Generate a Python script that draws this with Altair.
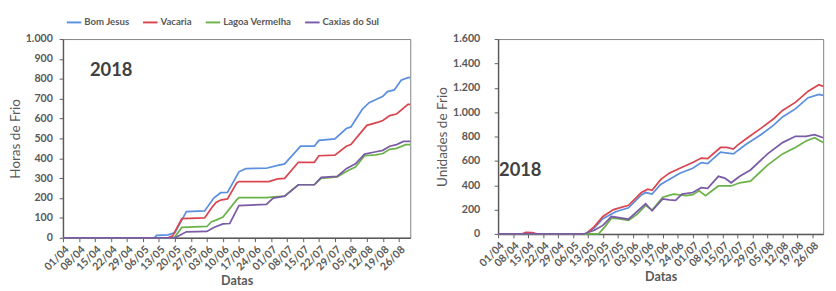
import altair as alt
import pandas as pd

series = ["Bom Jesus", "Vacaria", "Lagoa Vermelha", "Caxias do Sul"]
colors = ["#5b8fdf", "#d9464f", "#6bb24a", "#7b5ba6"]

tick_dates = ["2018-04-01", "2018-04-08", "2018-04-15", "2018-04-22", "2018-04-29",
              "2018-05-06", "2018-05-13", "2018-05-20", "2018-05-27", "2018-06-03",
              "2018-06-10", "2018-06-17", "2018-06-24", "2018-07-01", "2018-07-08",
              "2018-07-15", "2018-07-22", "2018-07-29", "2018-08-05", "2018-08-12",
              "2018-08-19", "2018-08-26"]
hf_ticks = [0, 100, 200, 300, 400, 500, 600, 700, 800, 900, 1000]
uf_ticks = [0, 200, 400, 600, 800, 1000, 1200, 1400, 1600]
year_label = ["2018"]

# ---- Horas de Frio (left) ----
hf_bj_dates = ["2018-04-01", "2018-05-11", "2018-05-12", "2018-05-17", "2018-05-19", "2018-05-20",
               "2018-05-25", "2018-06-02", "2018-06-06", "2018-06-09", "2018-06-12", "2018-06-17",
               "2018-06-20", "2018-06-29", "2018-07-04", "2018-07-07", "2018-07-14", "2018-07-20",
               "2018-07-22", "2018-07-29", "2018-08-03", "2018-08-05", "2018-08-10", "2018-08-13",
               "2018-08-16", "2018-08-19", "2018-08-21", "2018-08-24", "2018-08-27", "2018-08-30",
               "2018-08-31"]
hf_bj_vals = [0, 0, 12, 15, 22, 25, 132, 135, 200, 227, 228, 332, 348, 350, 364, 372, 461, 461,
              490, 498, 550, 558, 647, 680, 696, 712, 736, 744, 793, 806, 806]

hf_va_dates = ["2018-04-01", "2018-05-17", "2018-05-19", "2018-05-23", "2018-06-02", "2018-06-05",
               "2018-06-07", "2018-06-09", "2018-06-12", "2018-06-16", "2018-06-17", "2018-06-30",
               "2018-07-04", "2018-07-07", "2018-07-13", "2018-07-20", "2018-07-22", "2018-07-29",
               "2018-08-03", "2018-08-05", "2018-08-12", "2018-08-17", "2018-08-19", "2018-08-22",
               "2018-08-25", "2018-08-30", "2018-08-31"]
hf_va_vals = [0, 0, 10, 97, 100, 150, 178, 190, 196, 275, 283, 283, 296, 299, 380, 380, 413, 416,
              461, 469, 566, 582, 590, 615, 623, 671, 671]

hf_lv_dates = ["2018-04-01", "2018-05-19", "2018-05-20", "2018-05-23", "2018-06-03", "2018-06-05",
               "2018-06-07", "2018-06-10", "2018-06-16", "2018-06-17", "2018-06-29", "2018-07-04",
               "2018-07-07", "2018-07-13", "2018-07-20", "2018-07-23", "2018-07-30", "2018-08-04",
               "2018-08-07", "2018-08-11", "2018-08-16", "2018-08-19", "2018-08-22", "2018-08-25",
               "2018-08-29", "2018-08-31"]
hf_lv_vals = [0, 0, 5, 52, 57, 81, 89, 105, 191, 202, 202, 207, 210, 267, 267, 299, 307, 340,
              356, 413, 417, 424, 445, 450, 469, 469]

hf_cs_dates = ["2018-04-01", "2018-05-20", "2018-05-25", "2018-06-03", "2018-06-06", "2018-06-10",
               "2018-06-13", "2018-06-17", "2018-06-29", "2018-07-02", "2018-07-07", "2018-07-13",
               "2018-07-20", "2018-07-23", "2018-07-30", "2018-08-03", "2018-08-07", "2018-08-11",
               "2018-08-16", "2018-08-19", "2018-08-22", "2018-08-25", "2018-08-28", "2018-08-31"]
hf_cs_vals = [0, 0, 30, 32, 52, 70, 72, 162, 168, 200, 210, 267, 267, 304, 309, 348, 372, 421,
              433, 440, 461, 469, 485, 485]

# ---- Unidades de Frio (right) ----
uf_bj_dates = ["2018-04-01", "2018-05-12", "2018-05-16", "2018-05-20", "2018-05-26", "2018-06-01",
               "2018-06-07", "2018-06-09", "2018-06-12", "2018-06-16", "2018-06-25", "2018-07-01",
               "2018-07-05", "2018-07-08", "2018-07-14", "2018-07-20", "2018-07-26", "2018-08-02",
               "2018-08-08", "2018-08-12", "2018-08-18", "2018-08-24", "2018-08-29", "2018-08-31"]
uf_bj_vals = [0, 0, 50, 125, 182, 215, 320, 340, 327, 406, 499, 539, 586, 578, 671, 657, 737,
              816, 895, 961, 1027, 1119, 1146, 1138]

uf_va_dates = ["2018-04-01", "2018-04-12", "2018-04-14", "2018-04-17", "2018-04-19", "2018-05-12",
               "2018-05-16", "2018-05-20", "2018-05-25", "2018-06-01", "2018-06-07", "2018-06-10",
               "2018-06-12", "2018-06-16", "2018-06-20", "2018-06-25", "2018-07-01", "2018-07-05",
               "2018-07-08", "2018-07-14", "2018-07-17", "2018-07-20", "2018-07-22", "2018-07-26",
               "2018-08-02", "2018-08-08", "2018-08-12", "2018-08-18", "2018-08-24", "2018-08-29",
               "2018-08-31"]
uf_va_vals = [0, 0, 12, 10, 0, 0, 60, 143, 200, 235, 340, 367, 359, 446, 499, 539, 586, 623,
              618, 710, 710, 697, 729, 782, 869, 948, 1014, 1080, 1172, 1225, 1212]

uf_lv_dates = ["2018-04-01", "2018-05-18", "2018-05-21", "2018-05-24", "2018-05-27", "2018-06-01",
               "2018-06-05", "2018-06-09", "2018-06-12", "2018-06-17", "2018-06-22", "2018-06-28",
               "2018-07-01", "2018-07-04", "2018-07-07", "2018-07-13", "2018-07-19", "2018-07-23",
               "2018-07-28", "2018-08-05", "2018-08-12", "2018-08-18", "2018-08-23", "2018-08-27",
               "2018-08-31"]
uf_lv_vals = [0, 0, 60, 129, 125, 111, 160, 235, 196, 301, 327, 314, 322, 354, 314, 394, 394,
              420, 433, 565, 657, 710, 763, 790, 750]

uf_cs_dates = ["2018-04-01", "2018-05-11", "2018-05-16", "2018-05-20", "2018-05-24", "2018-06-01",
               "2018-06-09", "2018-06-12", "2018-06-17", "2018-06-20", "2018-06-23", "2018-06-26",
               "2018-07-01", "2018-07-05", "2018-07-08", "2018-07-13", "2018-07-16", "2018-07-19",
               "2018-07-23", "2018-07-28", "2018-08-05", "2018-08-12", "2018-08-18", "2018-08-23",
               "2018-08-27", "2018-08-31"]
uf_cs_vals = [0, 0, 30, 70, 143, 121, 248, 190, 288, 280, 275, 327, 340, 380, 375, 473, 459,
              420, 473, 525, 657, 750, 802, 802, 816, 790]


def frame(parts):
    rows = []
    for name, ds, vs in parts:
        for d, v in zip(ds, vs):
            rows.append({"serie": name, "data": d, "valor": v})
    return pd.DataFrame(rows)


hf = frame([(series[0], hf_bj_dates, hf_bj_vals), (series[1], hf_va_dates, hf_va_vals),
            (series[2], hf_lv_dates, hf_lv_vals), (series[3], hf_cs_dates, hf_cs_vals)])
uf = frame([(series[0], uf_bj_dates, uf_bj_vals), (series[1], uf_va_dates, uf_va_vals),
            (series[2], uf_lv_dates, uf_lv_vals), (series[3], uf_cs_dates, uf_cs_vals)])


def dt(s):
    y, m, d = s.split("-")
    return alt.DateTime(year=int(y), month=int(m), date=int(d), utc=True)


FONT = "Lato"
GRAY = "#595959"
label_expr = "replace(format(datum.value, ','), ',', '.')"

x_enc = alt.X(
    "data:T",
    scale=alt.Scale(type="utc", domain=[dt("2018-04-01"), dt("2018-08-31")]),
    axis=alt.Axis(values=[dt(s) for s in tick_dates],
                  labelExpr="utcFormat(datum.value, '%d/%m')",
                  labelOverlap=False, labelBound=False, labelFlush=False,
                  labelAngle=315, title="Datas", labelFontSize=11, labelPadding=2,
                  titlePadding=3, titleFontSize=13),
)

color_scale = alt.Scale(domain=series, range=colors)


def panel(df, ticks, ymax, ytitle, w, h, legend, label_pad, tx, ty):
    lines = alt.Chart(df).mark_line(strokeWidth=1.8).encode(
        x=x_enc,
        y=alt.Y("valor:Q", scale=alt.Scale(domain=[0, ymax]),
                axis=alt.Axis(values=ticks, title=ytitle, labelExpr=label_expr,
                              labelPadding=label_pad, titlePadding=3, titleFontSize=14,
                              titleFontWeight="normal")),
        color=alt.Color("serie:N", scale=color_scale, sort=series, legend=legend),
    )
    txt = alt.Chart(pd.DataFrame({"t": year_label})).mark_text(
        fontSize=19, fontWeight="bold", font=FONT, color="#404040"
    ).encode(text="t:N", x=alt.value(tx), y=alt.value(ty))
    return alt.layer(lines, txt).properties(width=w, height=h)


legend = alt.Legend(title=None, orient="none", legendX=3, legendY=-26, direction="horizontal",
                    symbolType="stroke", symbolSize=225, symbolStrokeWidth=2,
                    labelFont=FONT, labelFontSize=10, labelFontWeight="bold",
                    labelColor=GRAY, columnPadding=10, labelOffset=2)

left = panel(hf, hf_ticks, 1000, "Horas de Frio", 360, 206, legend, 7, 50, 32)
right = panel(uf, uf_ticks, 1600, "Unidades de Frio", 337, 202, None, 15, 23, 136)

chart = alt.hconcat(left, right, spacing=21).resolve_legend(color="independent").properties(
    padding={"left": 0, "top": 0, "right": 0, "bottom": 0}
).configure_view(stroke="#7f7f7f", strokeWidth=1).configure_axis(
    labelFont=FONT, titleFont=FONT, labelColor=GRAY, titleColor=GRAY,
    labelFontWeight="bold", labelFontSize=11, domainColor=GRAY, domainWidth=1.5,
    tickColor=GRAY, tickSize=4, grid=False, titleFontWeight="bold"
)

chart.save("out.html", embed_options={"renderer": "svg", "actions": False})
